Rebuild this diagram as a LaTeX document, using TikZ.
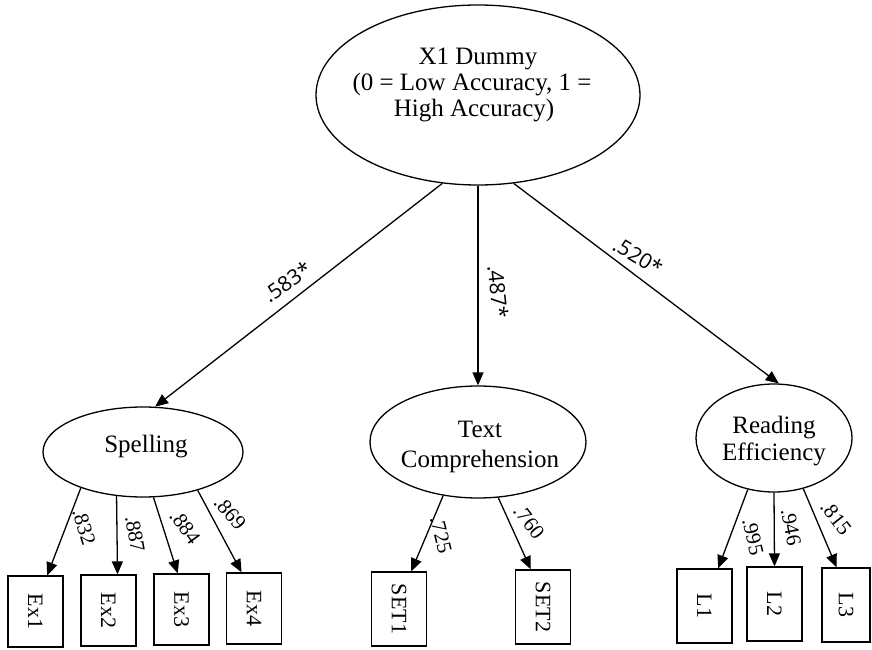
\documentclass[tikz,border=0pt]{standalone}
\usepackage{fontspec}
\usepackage{graphicx}
\setmainfont{Liberation Serif}
\newfontfamily\labfont{Open Sans}
\usetikzlibrary{shapes.geometric,arrows.meta}
\begin{document}
\begin{tikzpicture}[x=1pt,y=1pt,
  lat/.style={ellipse, draw, line width=1.3pt, inner sep=0pt},
  etext/.style={font=\fontsize{25}{27}\selectfont, inner sep=0pt, anchor=base},
  obs/.style={rectangle, draw, line width=1.3pt, minimum width=55pt, inner sep=0pt, font=\fontsize{22}{24}\selectfont},
  load/.style={font=\fontsize{21}{23}\selectfont, inner sep=0pt},
  coef/.style={font=\labfont\fontsize{21}{23}\selectfont, inner sep=0pt},
  arr/.style={-{Triangle[length=13pt,width=11pt]}, line width=1.3pt}]
\useasboundingbox (0,0) rectangle (872,649);

% latent ellipses
\node[lat, minimum width=324pt, minimum height=180pt] (x1) at (478,554) {};
\node[lat, minimum width=200pt, minimum height=90pt] (spell) at (143,197) {};
\node[lat, minimum width=216pt, minimum height=112pt] (tc) at (478,207) {};
\node[lat, minimum width=156pt, minimum height=108pt] (re) at (774,211) {};

% ellipse texts
\node[etext] (x1a) at (478,584) {X1 Dummy};
\node[etext] (x1b) at (472,558) {(0 = Low Accuracy, 1 =};
\node[etext] (x1c) at (474,532) {High Accuracy)};
\node[etext] (spt) at (146,197) {Spelling};
\node[etext] (tca) at (480,212) {Text};
\node[etext] (tcb) at (480,182) {Comprehension};
\node[etext] (rea) at (774,216) {Reading};
\node[etext] (reb) at (774,189) {Efficiency};

% observed boxes
\node[obs, minimum height=71pt] (ex1) at (35.5,37.5) {\rotatebox{-90}{Ex1}};
\node[obs, minimum height=71pt] (ex2) at (108.5,38.5) {\rotatebox{-90}{Ex2}};
\node[obs, minimum height=71pt] (ex3) at (181.5,39.5) {\rotatebox{-90}{Ex3}};
\node[obs, minimum height=71pt] (ex4) at (254,40.5) {\rotatebox{-90}{Ex4}};
\node[obs, minimum height=74pt] (set1) at (399,40) {\rotatebox{-90}{SET1}};
\node[obs, minimum height=74pt] (set2) at (543,42) {\rotatebox{-90}{SET2}};
\node[obs, minimum height=74pt] (l1) at (704.5,43) {\rotatebox{-90}{L1}};
\node[obs, minimum height=74pt] (l2) at (774.5,45) {\rotatebox{-90}{L2}};
\node[obs, minimum height=74pt, minimum width=48pt] (l3) at (846,44) {\rotatebox{-90}{L3}};

% structural paths
\draw[arr] (x1.-112) -- (spell.75);
\draw[arr] (x1.south) -- (tc.north);
\draw[arr] (x1.-68) -- (re.85);

% measurement paths
\draw[arr] (spell.-150) -- (ex1.72);
\draw[arr] (spell.-121) -- (ex2.76);
\draw[arr] (spell.-77) -- (ex3.96);
\draw[arr] (spell.-35) -- (ex4.109);
\draw[arr] (tc.-123) -- (set1.72);
\draw[arr] (tc.-70) -- (set2.108);
\draw[arr] (re.-117) -- (l1.70);
\draw[arr] (re.south) -- (l2.north);
\draw[arr] (re.-60) -- (l3.104);

% coefficient labels
\node[coef, rotate=35] (c583) at (287,367) {.583*};
\node[coef, rotate=-84] (c487) at (498,357) {.487*};
\node[coef, rotate=-31] (c520) at (638,393) {.520*};

\node[load, rotate=-73] (c832) at (84,122) {.832};
\node[load, rotate=-80] (c887) at (135,115) {.887};
\node[load, rotate=-54] (c884) at (185,122) {.884};
\node[load, rotate=-49] (c869) at (230,136) {.869};
\node[load, rotate=-76] (c725) at (441,114) {.725};
\node[load, rotate=-52] (c760) at (529,127) {.760};
\node[load, rotate=-77] (c995) at (753,112) {.995};
\node[load, rotate=-79] (c946) at (791,122) {.946};
\node[load, rotate=-52] (c815) at (836,131) {.815};
\end{tikzpicture}
\end{document}
